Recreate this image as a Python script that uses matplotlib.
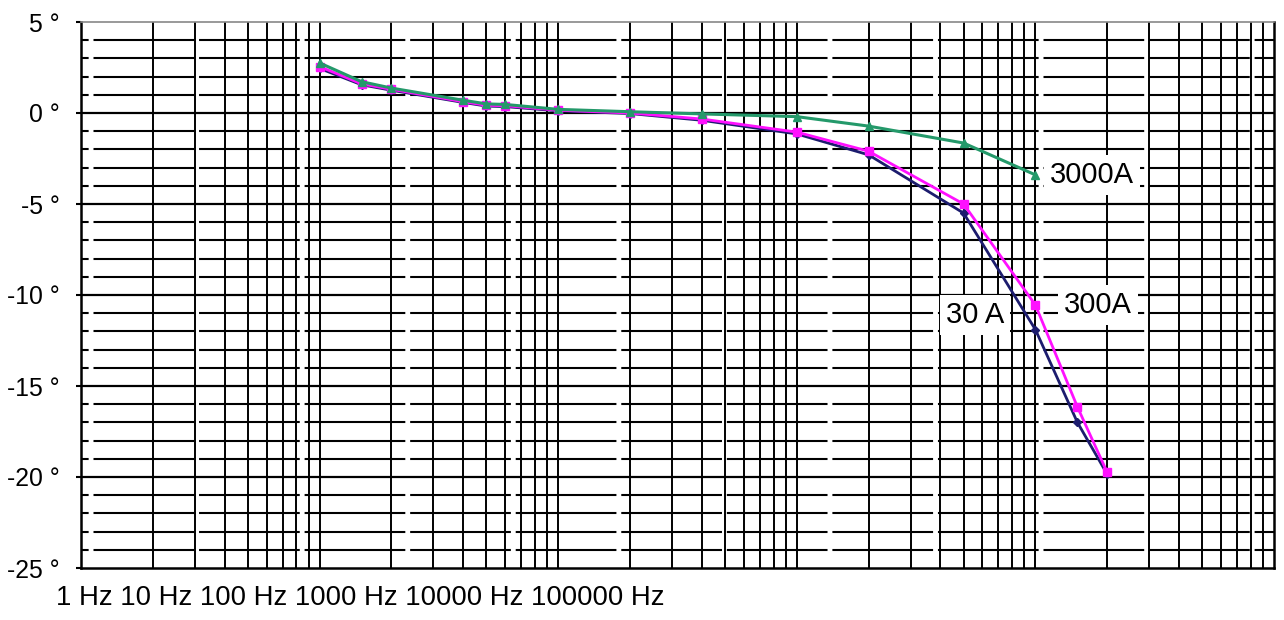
import matplotlib.pyplot as plt
import numpy as np

plt.rcParams['font.family'] = ['Liberation Sans', 'DejaVu Sans']
plt.rcParams['lines.scale_dashes'] = False

# ---------------------------------------------------------------
#                     data
# ---------------------------------------------------------------
freq = [10, 15, 20, 40, 50, 60, 100, 200, 400, 1000, 2000, 5000, 10000, 15000, 20000]

phase_3000A = [2.75, 1.72, 1.37, 0.70, 0.50, 0.47, 0.20, 0.07, -0.05, -0.20, -0.72, -1.65, -3.40]
phase_300A = [2.55, 1.60, 1.30, 0.62, 0.42, 0.40, 0.15, 0.00, -0.33, -1.05, -2.10, -5.00, -10.55, -16.15, -19.75]
phase_30A = [2.45, 1.55, 1.25, 0.58, 0.38, 0.35, 0.12, -0.03, -0.40, -1.15, -2.30, -5.50, -11.90, -17.00, -19.85]

y_ticks = [5, 0, -5, -10, -15, -20, -25]
x_labels = ["1 Hz", "10 Hz", "100 Hz", "1000 Hz", "10000 Hz", "100000 Hz"]

fig = plt.figure(figsize=(12.84, 6.2), dpi=100)
ax = fig.add_axes([81 / 1284, 1 - 568 / 620, 1193 / 1284, 546 / 620])

ax.set_xscale("log")
ax.set_xlim(1, 1e5)
ax.set_ylim(-25, 5)

# grid: vertical lines at every 1..9 of each decade
for dec in range(5):
    for k in range(1, 10):
        x = k * 10 ** dec
        if x > 1:
            ax.axvline(x, color="black", linewidth=1.4, zorder=1)
# horizontal lines every degree, the minor ones with small gaps
for v in range(-24, 5):
    if v % 5 == 0:
        ax.axhline(v, color="black", linewidth=1.6, zorder=1)
    else:
        ax.axhline(v, color="black", linewidth=1.5, zorder=1,
                   linestyle=(67, (72.5, 3.5)))

# curves
ax.plot(freq[:len(phase_30A)], phase_30A, "-", marker="D", markersize=4,
        linewidth=2.0, color="#1c1c6e", zorder=3)
ax.plot(freq[:len(phase_300A)], phase_300A, "-", marker="s", markersize=6,
        linewidth=2.0, color="#ff10ff", zorder=4)
ax.plot(freq[:len(phase_3000A)], phase_3000A, "-", marker="^", markersize=6,
        linewidth=2.2, color="#24996a", zorder=5)

# curve labels
box = dict(boxstyle="square,pad=0.2", facecolor="white", edgecolor="none")
ax.text(11500, -3.4, "3000A", fontsize=21, va="center", ha="left", bbox=box, zorder=6)
ax.text(13200, -10.55, "300A", fontsize=21, va="center", ha="left", bbox=box, zorder=6)
ax.text(4200, -11.1, "30 A", fontsize=21, va="center", ha="left", bbox=box, zorder=2)

# axes
ax.set_yticks(y_ticks)
ax.set_yticklabels([f"{v} °" for v in y_ticks], fontsize=17.8)
ax.tick_params(axis="y", length=3.6, width=1.5, pad=11.5)
ax.set_xticks([])
ax.minorticks_off()
ax.xaxis.set_minor_locator(plt.NullLocator())
for side in ["left", "bottom", "right"]:
    ax.spines[side].set_linewidth(1.8)
ax.spines["top"].set_color("#888888")
ax.spines["top"].set_linewidth(1.2)

fig.text(56 / 1284, 1 - 598 / 620, " ".join(x_labels), fontsize=19.8,
         ha="left", va="center")

fig.savefig("out.png", dpi=100)
